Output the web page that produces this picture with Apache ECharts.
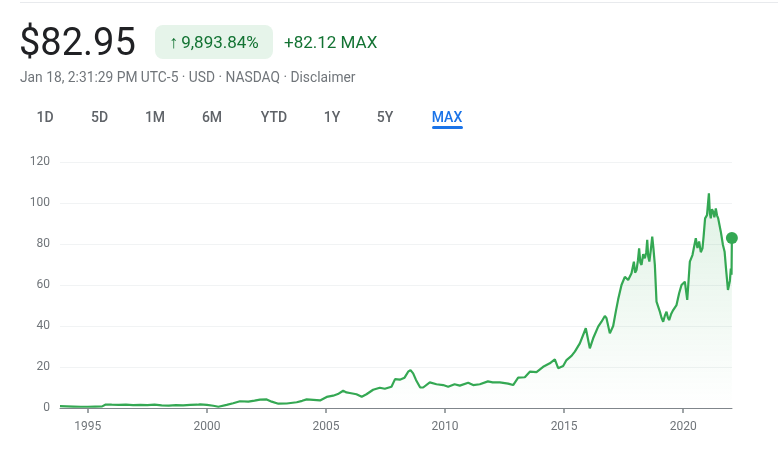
<!DOCTYPE html>
<html>
<head>
<meta charset="utf-8">
<script src="https://cdn.jsdelivr.net/npm/echarts@6/dist/echarts.min.js"></script>
<style>
  html, body { margin: 0; padding: 0; background: #fff; }
  body { width: 778px; height: 458px; position: relative; overflow: hidden; font-family: Roboto, "Noto Sans", Arial, sans-serif; }
  #chart { position: absolute; left: 0; top: 0; width: 778px; height: 458px; }
  .abs { position: absolute; white-space: nowrap; }
  #topline { left: 20px; top: 2px; width: 758px; height: 1px; background: #e8eaed; }
  #price { left: 19px; top: 20px; font-size: 38px; line-height: 44px; color: #202124; }
  #badge { left: 155px; top: 25px; width: 118px; height: 34px; border-radius: 8px; background: #e6f4ea; color: #137333; font-size: 17px; line-height: 34px; text-align: center; }
  #badge .arr { font-size: 18px; margin-right: 3px; }
  #chg { left: 284px; top: 31px; font-size: 17px; line-height: 22px; color: #137333; }
  #sub { left: 20px; top: 69px; font-size: 13.8px; line-height: 16px; color: #70757a; }
  .tab { top: 108px; font-size: 14px; line-height: 18px; font-weight: 500; color: #5f6368; transform: translateX(-50%); }
  #ul { left: 432px; top: 126px; width: 31px; height: 3px; border-radius: 2px; background: #1a73e8; }
</style>
</head>
<body>
<div id="chart"></div>
<div class="abs" id="topline"></div>
<div class="abs" id="price">$82.95</div>
<div class="abs" id="badge"><span class="arr">↑</span>9,893.84%</div>
<div class="abs" id="chg">+82.12 MAX</div>
<div class="abs" id="sub">Jan 18, 2:31:29 PM UTC-5 · USD · NASDAQ · Disclaimer</div>
<div id="tabs"></div>
<div class="abs" id="ul"></div>
<script>
// ---- data (decimal year, price) ----
const years = [
  1993.83, 1994.1, 1994.4, 1994.7, 1995.0, 1995.3, 1995.6, 1995.75, 1996.0, 1996.3,
  1996.6, 1996.9, 1997.2, 1997.5, 1997.8, 1998.1, 1998.4, 1998.7, 1999.0, 1999.3,
  1999.6, 1999.71, 2000.0, 2000.27, 2000.48, 2000.83, 2001.1, 2001.39, 2001.74, 2002.0,
  2002.23, 2002.51, 2002.72, 2003.0, 2003.35, 2003.77, 2004.0, 2004.19, 2004.47, 2004.75,
  2005.03, 2005.3, 2005.5, 2005.72, 2005.86, 2006.0, 2006.28, 2006.5, 2006.7, 2006.98,
  2007.26, 2007.47, 2007.75, 2007.9, 2008.1, 2008.3, 2008.45, 2008.55, 2008.66, 2008.78,
  2008.95, 2009.08, 2009.36, 2009.64, 2009.92, 2010.13, 2010.4, 2010.62, 2010.97, 2011.18,
  2011.46, 2011.8, 2012.0, 2012.3, 2012.65, 2012.86, 2013.07, 2013.35, 2013.56, 2013.84,
  2014.12, 2014.4, 2014.61, 2014.75, 2014.96, 2015.1, 2015.31, 2015.45, 2015.66, 2015.91,
  2016.08, 2016.22, 2016.43, 2016.57, 2016.71, 2016.78, 2016.92, 2017.06, 2017.17, 2017.27,
  2017.41, 2017.55, 2017.69, 2017.83, 2017.93, 2017.98, 2018.04, 2018.1, 2018.15, 2018.2,
  2018.25, 2018.32, 2018.39, 2018.45, 2018.49, 2018.53, 2018.58, 2018.64, 2018.7, 2018.75,
  2018.81, 2018.88, 2019.02, 2019.09, 2019.16, 2019.23, 2019.3, 2019.36, 2019.41, 2019.5,
  2019.58, 2019.72, 2019.83, 2019.93, 2020.07, 2020.17, 2020.28, 2020.39, 2020.53, 2020.6,
  2020.67, 2020.74, 2020.81, 2020.86, 2020.92, 2021.0, 2021.08, 2021.12, 2021.16, 2021.21,
  2021.26, 2021.31, 2021.37, 2021.42, 2021.47, 2021.58, 2021.67, 2021.74, 2021.81, 2021.88,
  2021.96, 2022.0, 2022.03, 2022.045
];
const prices = [
  0.9, 0.8, 0.7, 0.6, 0.6, 0.7, 0.8, 1.7, 1.6, 1.5,
  1.6, 1.4, 1.5, 1.4, 1.6, 1.3, 1.2, 1.4, 1.3, 1.5,
  1.6, 1.8, 1.5, 1.1, 0.6, 1.5, 2.3, 3.3, 3.1, 3.6,
  4.1, 4.2, 3.1, 2.1, 2.2, 2.8, 3.5, 4.2, 4.0, 3.7,
  5.4, 6.0, 6.8, 8.4, 7.6, 7.3, 6.7, 5.5, 6.7, 8.9,
  9.9, 9.4, 10.4, 14.1, 13.8, 14.8, 17.7, 18.5, 16.9, 13.7,
  10.1, 10.0, 12.5, 11.6, 11.2, 10.4, 11.6, 10.9, 12.3, 11.2,
  11.6, 13.0, 12.5, 12.5, 11.9, 11.2, 14.8, 15.0, 17.7, 17.5,
  20.1, 21.8, 23.7, 19.4, 20.5, 23.4, 25.4, 27.5, 31.5, 38.9,
  29.1, 34.0, 39.7, 42.1, 44.9, 43.8, 36.4, 40.0, 47.0, 53.0,
  60.0, 64.0, 62.4, 65.7, 71.4, 66.0, 67.3, 72.0, 77.9, 71.0,
  69.8, 75.0, 73.0, 76.0, 82.0, 74.0, 71.4, 77.0, 83.6, 78.0,
  69.8, 51.9, 47.0, 44.0, 42.1, 45.0, 47.0, 44.0, 42.9, 46.0,
  47.8, 50.2, 56.0, 60.0, 61.6, 52.7, 71.4, 74.6, 82.8, 78.0,
  81.2, 76.0, 77.9, 84.0, 92.5, 94.1, 104.7, 95.0, 92.5, 97.0,
  95.8, 93.0, 97.4, 94.0, 92.5, 86.0, 79.5, 76.2, 66.5, 57.6,
  62.0, 68.0, 65.0, 82.95
];
const xTickYears = [1995, 2000, 2005, 2010, 2015, 2020];
const yTicks = [0, 20, 40, 60, 80, 100, 120];
const tabLabels = ['1D', '5D', '1M', '6M', 'YTD', '1Y', '5Y', 'MAX'];

// tabs (layout only)
const tabCenters = [45, 99.5, 155, 212, 274, 332, 385, 447];
const tabsEl = document.getElementById('tabs');
tabLabels.forEach((t, i) => {
  const d = document.createElement('div');
  d.className = 'abs tab';
  d.style.left = tabCenters[i] + 'px';
  if (t === 'MAX') d.style.color = '#1a73e8';
  d.textContent = t;
  tabsEl.appendChild(d);
});

const seriesData = years.map((y, i) => [y, prices[i]]);
const last = seriesData[seriesData.length - 1];

const chart = echarts.init(document.getElementById('chart'), null, { renderer: 'canvas' });
chart.setOption({
  animation: false,
  grid: { left: 60, right: 46, top: 162, bottom: 50 },
  xAxis: {
    type: 'value',
    min: 1993.83,
    max: 2022.05,
    splitLine: { show: false },
    axisLine: { show: true, lineStyle: { color: '#80868b', width: 1 } },
    axisTick: { show: true, length: 5, customValues: xTickYears, lineStyle: { color: '#80868b', width: 1.5 } },
    axisLabel: { customValues: xTickYears, margin: 13, color: '#70757a', fontSize: 12, fontFamily: 'Roboto', formatter: v => String(Math.round(v)) }
  },
  yAxis: {
    type: 'value',
    min: yTicks[0],
    max: yTicks[yTicks.length - 1],
    interval: 20,
    axisLine: { show: false },
    axisTick: { show: false },
    axisLabel: { margin: 10, color: '#70757a', fontSize: 12, fontFamily: 'Roboto' },
    splitLine: { show: true, lineStyle: { color: '#f1f3f4', width: 1 } }
  },
  series: [
    {
      type: 'line',
      data: seriesData,
      showSymbol: false,
      symbol: 'none',
      lineStyle: { color: '#34a853', width: 2.2 },
      areaStyle: {
        color: new echarts.graphic.LinearGradient(0, 0, 0, 1, [
          { offset: 0, color: 'rgba(52,168,83,0.22)' },
          { offset: 1, color: 'rgba(52,168,83,0.0)' }
        ])
      },
      z: 3
    },
    {
      type: 'scatter',
      data: [last],
      symbol: 'circle',
      symbolSize: 12,
      itemStyle: { color: '#34a853', opacity: 1 },
      z: 4
    }
  ]
});
</script>
</body>
</html>
